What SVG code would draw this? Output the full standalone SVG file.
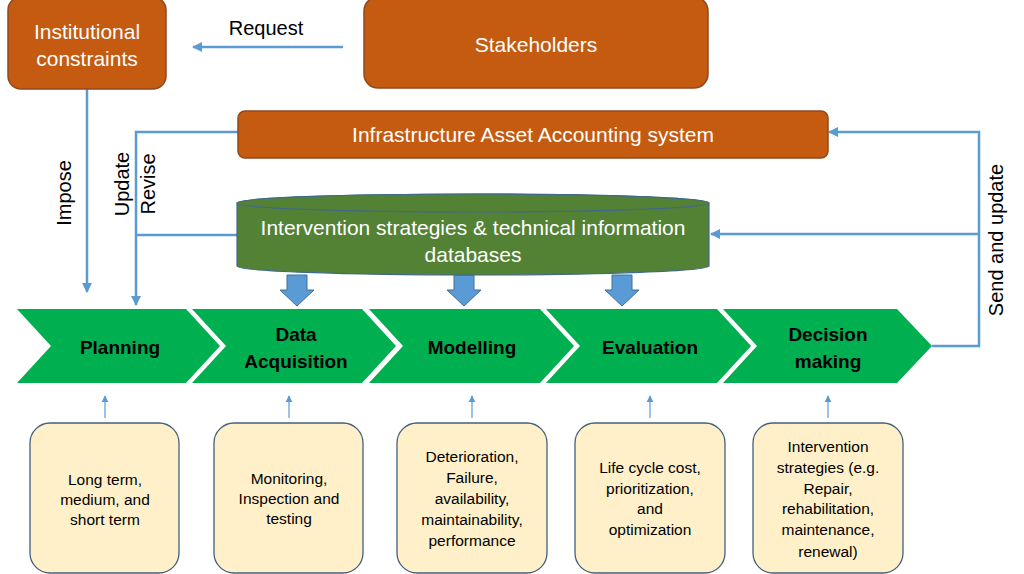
<svg xmlns="http://www.w3.org/2000/svg" width="1024" height="574" viewBox="0 0 1024 574">
<style>
.org{fill:#C55A11;stroke:#8E4A1E;stroke-width:1.5}
.wt{fill:#ffffff;font-family:"Liberation Sans",Arial,sans-serif;font-size:21px;text-anchor:middle}
.lbl{fill:#000000;font-family:"Liberation Sans",Arial,sans-serif;font-size:20px;text-anchor:middle}
.chev{fill:#00B050}
.ct{fill:#000000;font-family:"Liberation Sans",Arial,sans-serif;font-size:19px;font-weight:bold;text-anchor:middle}
.box{fill:#FFF0C9;stroke:#42607E;stroke-width:1.3}
.bt{fill:#000000;font-family:"Liberation Sans",Arial,sans-serif;font-size:15.5px;text-anchor:middle}
.con{fill:none;stroke:#5B9BD5;stroke-width:2.5}
.thin{fill:none;stroke:#5B9BD5;stroke-width:1.2}
.blk{fill:#5B9BD5;stroke:#41719C;stroke-width:1}
</style>
<defs>
<marker id="ah" viewBox="0 0 10 10" refX="9" refY="5" markerWidth="4" markerHeight="4" orient="auto" markerUnits="strokeWidth">
<path d="M0,0 L10,5 L0,10 Z" fill="#5B9BD5"/>
</marker>
<marker id="ahs" viewBox="0 0 10 10" refX="9" refY="5" markerWidth="6" markerHeight="6" orient="auto" markerUnits="strokeWidth">
<path d="M0,0 L10,5 L0,10 Z" fill="#5B9BD5"/>
</marker>
</defs>
<rect width="1024" height="574" fill="#ffffff"/>

<g id="connectors">
<line class="con" x1="343" y1="47" x2="193" y2="47" marker-end="url(#ah)"/>
<line class="con" x1="87" y1="89" x2="87" y2="292" marker-end="url(#ah)"/>
<polyline class="con" points="238,132 136,132 136,305" marker-end="url(#ah)"/>
<line class="con" x1="238" y1="235" x2="136" y2="235"/>
<polyline class="con" points="932,346 979,346 979,132 829,132" marker-end="url(#ah)"/>
<line class="con" x1="979" y1="234" x2="711" y2="234" marker-end="url(#ah)"/>
<line class="thin" x1="105" y1="418" x2="105" y2="396" marker-end="url(#ahs)"/>
<line class="thin" x1="289" y1="418" x2="289" y2="396" marker-end="url(#ahs)"/>
<line class="thin" x1="472" y1="418" x2="472" y2="396" marker-end="url(#ahs)"/>
<line class="thin" x1="650" y1="418" x2="650" y2="396" marker-end="url(#ahs)"/>
<line class="thin" x1="828" y1="418" x2="828" y2="396" marker-end="url(#ahs)"/>
<path class="blk" d="M287,275 L307,275 L307,290 L314,290 L297,306 L280,290 L287,290 Z"/>
<path class="blk" d="M454,275 L474,275 L474,290 L481,290 L464,306 L447,290 L454,290 Z"/>
<path class="blk" d="M612,275 L632,275 L632,290 L639,290 L622,306 L605,290 L612,290 Z"/>
<text class="lbl" x="266" y="35">Request</text>
<text class="lbl" transform="translate(71,193) rotate(-90)">Impose</text>
<text class="lbl" transform="translate(129,184) rotate(-90)">Update</text>
<text class="lbl" transform="translate(155,184) rotate(-90)">Revise</text>
<text class="lbl" transform="translate(1003,240) rotate(-90)">Send and update</text>
</g>

<g id="institutional">
<rect class="org" x="8" y="-3" width="158" height="92" rx="13"/>
<text class="wt" x="87" y="39">Institutional</text>
<text class="wt" x="87" y="66">constraints</text>
</g>
<g id="stakeholders">
<rect class="org" x="364" y="-3" width="344" height="91" rx="14"/>
<text class="wt" x="536" y="52">Stakeholders</text>
</g>
<g id="iaas">
<rect class="org" x="238" y="111" width="590" height="47" rx="7"/>
<text class="wt" x="533" y="142">Infrastructure Asset Accounting system</text>
</g>
<g id="database">
<path d="M237,203 A236,9 0 0 1 709,203 L709,266 A236,9 0 0 1 237,266 Z" fill="#548235" stroke="#3F6A8C" stroke-width="1.2"/>
<ellipse cx="473" cy="203" rx="236" ry="9" fill="#548235" stroke="#3F6A8C" stroke-width="1.2"/>
<text class="wt" x="473" y="235">Intervention strategies &amp; technical information</text>
<text class="wt" x="473" y="262">databases</text>
</g>

<g id="planning">
<path class="chev" d="M17,309 L186,309 L220,346 L186,383 L17,383 L51,346 Z"/>
<text class="ct" x="120" y="354">Planning</text>
</g>
<g id="data-acquisition">
<path class="chev" d="M192,309 L362,309 L396,346 L362,383 L192,383 L226,346 Z"/>
<text class="ct" x="296" y="341">Data</text>
<text class="ct" x="296" y="368">Acquisition</text>
</g>
<g id="modelling">
<path class="chev" d="M369,309 L540,309 L574,346 L540,383 L369,383 L403,346 Z"/>
<text class="ct" x="472" y="354">Modelling</text>
</g>
<g id="evaluation">
<path class="chev" d="M546,309 L717,309 L751,346 L717,383 L546,383 L580,346 Z"/>
<text class="ct" x="650" y="354">Evaluation</text>
</g>
<g id="decision">
<path class="chev" d="M723,309 L897,309 L932,346 L897,383 L723,383 L757,346 Z"/>
<text class="ct" x="828" y="341">Decision</text>
<text class="ct" x="828" y="368">making</text>
</g>

<g id="box-planning">
<rect class="box" x="30" y="423" width="149" height="150" rx="20"/>
<text class="bt" x="105" y="485">Long term,</text>
<text class="bt" x="105" y="505">medium, and</text>
<text class="bt" x="105" y="525">short term</text>
</g>
<g id="box-data">
<rect class="box" x="214" y="423" width="149" height="150" rx="20"/>
<text class="bt" x="289" y="484">Monitoring,</text>
<text class="bt" x="289" y="504">Inspection and</text>
<text class="bt" x="289" y="524">testing</text>
</g>
<g id="box-modelling">
<rect class="box" x="397" y="423" width="150" height="150" rx="20"/>
<text class="bt" x="472" y="462">Deterioration,</text>
<text class="bt" x="472" y="483">Failure,</text>
<text class="bt" x="472" y="504">availability,</text>
<text class="bt" x="472" y="525">maintainability,</text>
<text class="bt" x="472" y="546">performance</text>
</g>
<g id="box-evaluation">
<rect class="box" x="575" y="423" width="150" height="150" rx="20"/>
<text class="bt" x="650" y="473">Life cycle cost,</text>
<text class="bt" x="650" y="494">prioritization,</text>
<text class="bt" x="650" y="514">and</text>
<text class="bt" x="650" y="535">optimization</text>
</g>
<g id="box-decision">
<rect class="box" x="753" y="423" width="150" height="150" rx="20"/>
<text class="bt" x="828" y="452">Intervention</text>
<text class="bt" x="828" y="473">strategies (e.g.</text>
<text class="bt" x="828" y="494">Repair,</text>
<text class="bt" x="828" y="514">rehabilitation,</text>
<text class="bt" x="828" y="535">maintenance,</text>
<text class="bt" x="828" y="557">renewal)</text>
</g>
</svg>
